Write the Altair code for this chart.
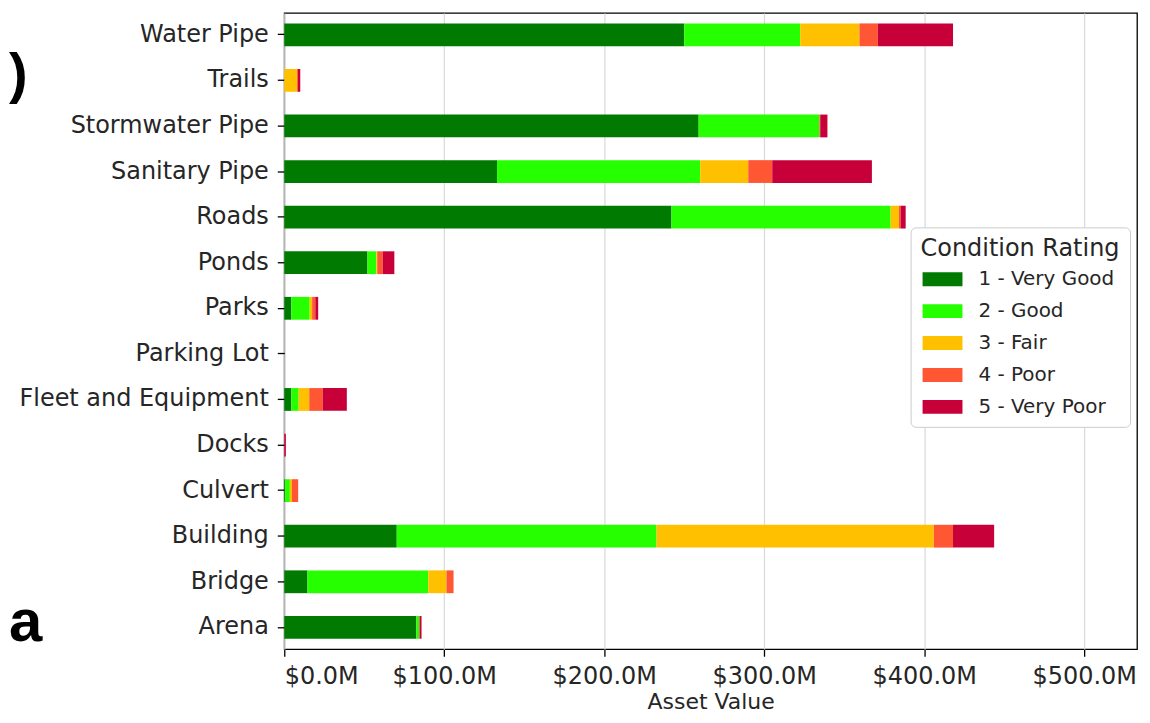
import altair as alt
import pandas as pd

categories = ["Water Pipe", "Trails", "Stormwater Pipe", "Sanitary Pipe", "Roads", "Ponds",
              "Parks", "Parking Lot", "Fleet and Equipment", "Docks", "Culvert",
              "Building", "Bridge", "Arena"]
ratings = ["1 - Very Good", "2 - Good", "3 - Fair", "4 - Poor", "5 - Very Poor"]
colors = ["#007A00", "#26FF00", "#FFC000", "#FF5733", "#C70039"]

# values in $M, per condition rating, in category order
very_good = [250.0, 0.0, 259.0, 133.0, 242.0, 52.0, 4.4, 0.0, 4.4, 0.0, 0.5, 70.3, 14.5, 82.5]
good      = [72.5, 0.0, 75.5, 127.0, 137.0, 5.6, 11.5, 0.0, 4.6, 0.0, 3.0, 162.4, 75.5, 1.8]
fair      = [37.0, 8.0, 0.0, 30.0, 5.2, 0.5, 1.5, 0.0, 6.6, 0.0, 1.3, 173.3, 11.4, 0.0]
poor      = [11.5, 0.5, 0.5, 15.0, 1.0, 3.5, 2.0, 0.0, 8.5, 0.0, 3.9, 12.0, 4.4, 0.3]
very_poor = [47.0, 1.5, 4.5, 62.3, 3.2, 7.2, 1.8, 0.0, 15.0, 1.0, 0.0, 25.7, 0.0, 1.2]
x_ticks = [0, 100, 200, 300, 400, 500]
stray_text = [")", "a"]

series = [very_good, good, fair, poor, very_poor]
rows = []
for i, cat in enumerate(categories):
    for r, name in enumerate(ratings):
        rows.append({"asset": cat, "rating": name, "order": r, "value": series[r][i]})
df = pd.DataFrame(rows)

FONT = "DejaVu Sans"
TXT = "#262626"

bars = alt.Chart(df).mark_bar().encode(
    y=alt.Y("asset:N",
            scale=alt.Scale(domain=categories, paddingInner=0.5, paddingOuter=0.23),
            axis=alt.Axis(title=None, labelFontSize=24, labelFont=FONT, labelColor=TXT,
                          labelLimit=400, tickSize=7, tickColor="black", tickWidth=1.3,
                          labelPadding=9, domain=False, grid=False)),
    x=alt.X("value:Q", stack="zero",
            scale=alt.Scale(domain=[0, 533], nice=False, zero=True),
            axis=alt.Axis(values=x_ticks, labelExpr="'$' + format(datum.value, '.1f') + 'M'",
                          title="Asset Value", titleFontSize=22, titleFont=FONT,
                          titleFontWeight="normal", titleColor=TXT, titlePadding=3,
                          labelFontSize=24, labelFont=FONT, labelColor=TXT,
                          tickSize=7, tickColor="black", tickWidth=1.3, labelPadding=8,
                          domain=False, grid=True, gridColor="#d9d9d9", gridWidth=1.2)),
    color=alt.Color("rating:N", scale=alt.Scale(domain=ratings, range=colors),
                    legend=alt.Legend(
                        title="Condition Rating", orient="none", legendX=628, legendY=215,
                        titleFontSize=24, titleFont=FONT, titleFontWeight="normal",
                        titleColor=TXT, titleLimit=400, labelLimit=400,
                        labelFontSize=20, labelFont=FONT, labelColor=TXT,
                        symbolType="M-2,-0.7H2V0.7H-2Z", symbolSize=400,
                        symbolStrokeWidth=0, symbolOpacity=1, symbolOffset=12,
                        labelOffset=26, rowPadding=12, padding=10,
                        fillColor="white", strokeColor="#cccccc", cornerRadius=5,
                        titlePadding=8)),
    order=alt.Order("order:Q"),
)

stray_df = pd.DataFrame({"t": stray_text, "px": [-276, -276], "py": [79, 630],
                         "fs": [56, 60]})
stray = alt.Chart(stray_df).mark_text(
    font="Liberation Sans", fontWeight="bold", align="left",
    baseline="alphabetic", color="black"
).encode(text="t:N", x=alt.X("px:Q", scale=None), y=alt.Y("py:Q", scale=None),
         size=alt.Size("fs:Q", scale=None, legend=None))

chart = alt.layer(bars, stray).properties(
    width=855, height=638,
    autosize=alt.AutoSizeParams(type="none"),
    padding={"left": 277, "top": 4, "right": 5, "bottom": 66},
).configure(background="white").configure_view(stroke="black", strokeWidth=1.3)

chart.save("out.html", embed_options={"renderer": "svg", "actions": False})
